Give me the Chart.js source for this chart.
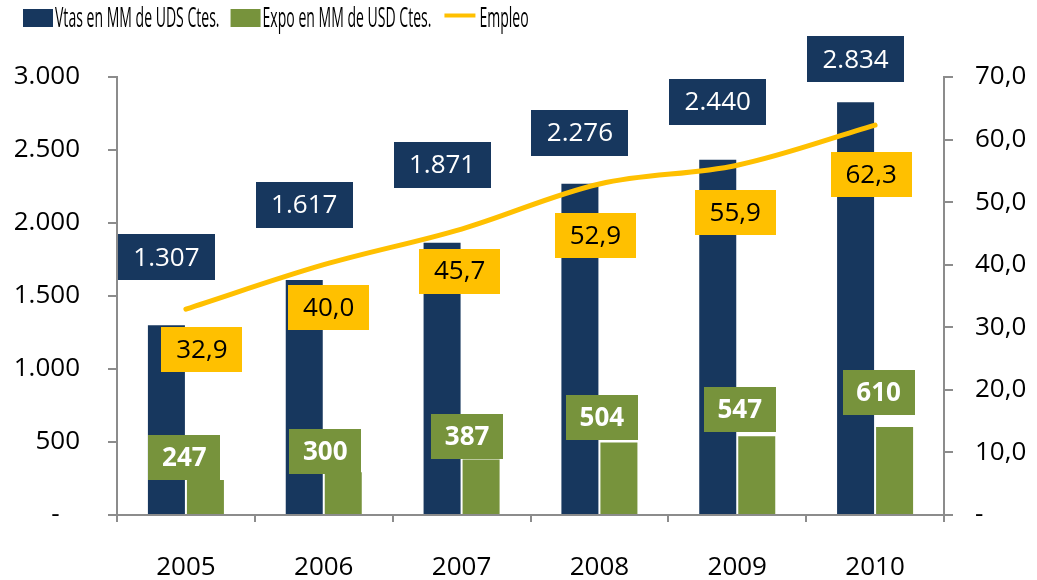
<!DOCTYPE html>
<html>
<head>
<meta charset="utf-8">
<script src="https://cdn.jsdelivr.net/npm/chart.js@4.4.1/dist/chart.umd.min.js"></script>
<style>
  html, body { margin: 0; padding: 0; background: #fff; }
</style>
</head>
<body>
<canvas id="grafico" width="1037" height="580"></canvas>
<script>
// Datos
const anios = ['2005', '2006', '2007', '2008', '2009', '2010'];
const ventas = [1307, 1617, 1871, 2276, 2440, 2834];
const expo = [247, 300, 387, 504, 547, 610];
const empleo = [32.9, 40.0, 45.7, 52.9, 55.9, 62.3];
const ticksIzq = [0, 500, 1000, 1500, 2000, 2500, 3000];
const ticksDer = [0, 10, 20, 30, 40, 50, 60, 70];
const nombres = ['Vtas en MM de UDS Ctes.', 'Expo en MM de USD Ctes.', 'Empleo'];

const azul = '#17375E';
const verde = '#77933C';
const amarillo = '#FFC000';
const gris = '#8c8c8c';

// desplazamiento de las etiquetas (px) respecto a la barra o punto
const despVentas = [[0, -67], [0, -74], [0, -77], [0, -50], [0, -57], [0, -42]];
const despExpo = [[-21, -21], [-18, -20], [-14, -22], [-17, -24], [-17, -26], [-16, -33]];
const despEmpleo = [[16, 40], [5, 43], [-2, 42], [-4, 52], [-2, 47], [-4, 49]];

const miles = v => v === 0 ? '-   ' : String(v).replace(/\B(?=(\d{3})+(?!\d))/g, '.');
const decimal = v => v === 0 ? '-' : v.toFixed(1).replace('.', ',');

const estilosEtiq = [
  { desp: despVentas, w: 97, h: 46, fondo: azul, texto: '#fff', font: '26px "Open Sans"', fmt: miles },
  { desp: despExpo, w: 72, h: 45, fondo: verde, texto: '#fff', font: 'bold 26px "Open Sans"', fmt: miles },
  { desp: despEmpleo, w: 81, h: 45, fondo: amarillo, texto: '#000', font: '26px "Open Sans"', fmt: decimal }
];

// Etiquetas con caja
const etiquetas = {
  id: 'etiquetas',
  afterDatasetsDraw(chart) {
    const ctx = chart.ctx;
    ctx.save();
    estilosEtiq.forEach((est, di) => {
      const meta = chart.getDatasetMeta(di);
      meta.data.forEach((el, i) => {
        const cx = el.x + est.desp[i][0];
        const cy = el.y + est.desp[i][1];
        ctx.fillStyle = est.fondo;
        ctx.fillRect(Math.round(cx - est.w / 2), Math.round(cy - est.h / 2), est.w, est.h);
        ctx.fillStyle = est.texto;
        ctx.font = est.font;
        ctx.textAlign = 'center';
        ctx.textBaseline = 'middle';
        ctx.fillText(est.fmt(chart.data.datasets[di].data[i]), cx, cy + 1);
      });
    });
    ctx.restore();
  }
};

// Leyenda arriba (texto comprimido como en Excel)
const leyenda = {
  id: 'leyenda',
  afterDraw(chart) {
    const ctx = chart.ctx;
    const esc = 0.52;
    let x = 23;
    ctx.save();
    ctx.font = '27px "Open Sans"';
    ctx.textBaseline = 'middle';
    ctx.textAlign = 'left';
    chart.data.datasets.forEach((ds) => {
      if (ds.type === 'line') {
        ctx.strokeStyle = ds.borderColor;
        ctx.lineWidth = 4;
        ctx.beginPath();
        ctx.moveTo(x + 2, 15.5);
        ctx.lineTo(x + 33, 15.5);
        ctx.stroke();
        x += 37;
      } else {
        ctx.fillStyle = ds.backgroundColor;
        ctx.fillRect(x, 9, 30, 18);
        x += 32;
      }
      const ancho = ctx.measureText(ds.label).width * esc;
      ctx.save();
      ctx.translate(x, 19);
      ctx.scale(esc, 1);
      ctx.fillStyle = '#000';
      ctx.fillText(ds.label, 0, 0);
      ctx.restore();
      x += ancho + 11;
    });
    ctx.restore();
  }
};

Chart.defaults.font.family = '"Open Sans"';

const grafico = new Chart(document.getElementById('grafico'), {
  type: 'bar',
  data: {
    labels: anios,
    datasets: [
      { label: nombres[0], data: ventas, backgroundColor: azul, borderColor: 'rgba(255,255,255,0.4)', borderWidth: 1, yAxisID: 'y', order: 2 },
      { label: nombres[1], data: expo, backgroundColor: verde, borderColor: 'rgba(255,255,255,0.4)', borderWidth: 1, yAxisID: 'y', order: 2 },
      {
        type: 'line', label: nombres[2], data: empleo, yAxisID: 'y1', order: 1,
        borderColor: amarillo, borderWidth: 5, pointRadius: 0, tension: 0.35,
        borderCapStyle: 'round', fill: false
      }
    ]
  },
  options: {
    responsive: false,
    animation: false,
    layout: { padding: { top: 77 } },
    datasets: { bar: { categoryPercentage: 0.566, barPercentage: 1 } },
    plugins: { legend: { display: false }, tooltip: { enabled: false } },
    scales: {
      x: {
        offset: true,
        grid: { offset: true, drawOnChartArea: false, tickLength: 7, color: gris, lineWidth: 2 },
        border: { color: gris, width: 2 },
        ticks: { font: { size: 26 }, color: '#000', padding: 30 },
        afterFit: s => { s.height = 65; }
      },
      y: {
        position: 'left', min: 0, max: 3000,
        afterBuildTicks: s => { s.ticks = ticksIzq.map(v => ({ value: v })); },
        grid: { drawOnChartArea: false, tickLength: 9, color: gris, lineWidth: 2 },
        border: { color: gris, width: 2 },
        ticks: { font: { size: 26 }, color: '#000', padding: 28, callback: v => miles(v) },
        afterFit: s => { s.width = 117; }
      },
      y1: {
        position: 'right', min: 0, max: 70,
        afterBuildTicks: s => { s.ticks = ticksDer.map(v => ({ value: v })); },
        grid: { drawOnChartArea: false, tickLength: 9, color: gris, lineWidth: 2 },
        border: { color: gris, width: 2 },
        ticks: { font: { size: 26 }, color: '#000', padding: 22, callback: v => decimal(v) },
        afterFit: s => { s.width = 93; }
      }
    }
  },
  plugins: [etiquetas, leyenda]
});
</script>
</body>
</html>
